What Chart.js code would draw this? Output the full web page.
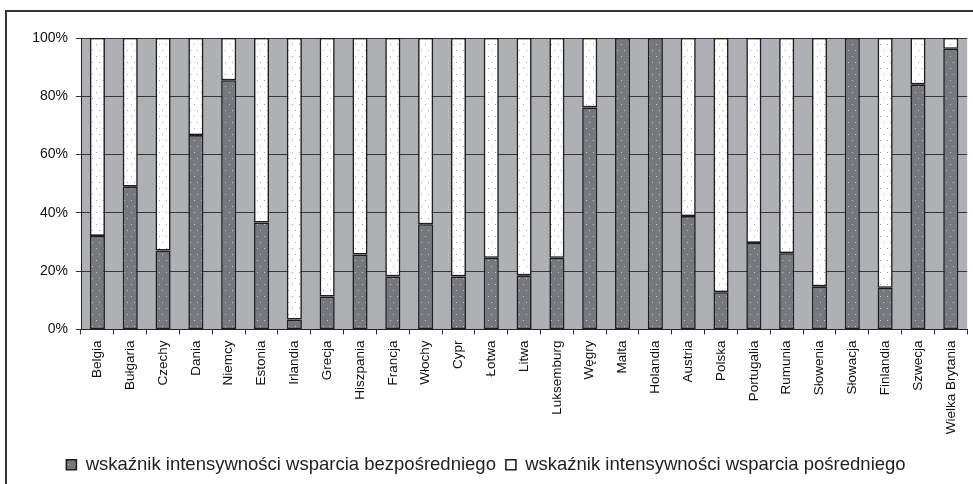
<!DOCTYPE html>
<html>
<head>
<meta charset="utf-8">
<script src="https://cdn.jsdelivr.net/npm/chart.js@4.4.1/dist/chart.umd.min.js"></script>
<style>
  html, body { margin: 0; padding: 0; background: #fff; }
  #wrap { position: relative; width: 973px; height: 484px; overflow: hidden; }
  #frame { position: absolute; left: 5px; top: 10px; width: 1000px; height: 500px; border: 2px solid #333; box-sizing: border-box; }
  canvas { position: absolute; left: 0; top: 0; }
</style>
</head>
<body>
<div id="wrap">
  <div id="frame"></div>
  <canvas id="myChart" width="973" height="484"></canvas>
</div>
<script>
// Kraje
const kraje = ["Belgia", "Bułgaria", "Czechy", "Dania", "Niemcy", "Estonia", "Irlandia", "Grecja",
  "Hiszpania", "Francja", "Włochy", "Cypr", "Łotwa", "Litwa", "Luksemburg", "Węgry", "Malta",
  "Holandia", "Austria", "Polska", "Portugalia", "Rumunia", "Słowenia", "Słowacja", "Finlandia",
  "Szwecja", "Wielka Brytania"];

// Udział wsparcia bezpośredniego (%)
const bezposrednie = [32.1, 49.0, 27.1, 66.7, 85.5, 36.7, 3.4, 11.3, 25.7, 18.2, 36.1, 18.2, 24.6,
  18.6, 24.6, 76.2, 100, 100, 38.9, 12.8, 29.7, 26.2, 14.8, 100, 14.3, 84.1, 96.3];

// Udział wsparcia pośredniego (%)
const posrednie = [67.9, 51.0, 72.9, 33.3, 14.5, 63.3, 96.6, 88.7, 74.3, 81.8, 63.9, 81.8, 75.4,
  81.4, 75.4, 23.8, 0, 0, 61.1, 87.2, 70.3, 73.8, 85.2, 0, 85.7, 15.9, 3.7];

const nazwySerii = ["wskaźnik intensywności wsparcia bezpośredniego", "wskaźnik intensywności wsparcia pośredniego"];
const yTicks = [0, 20, 40, 60, 80, 100];

// Wzór kropek
function wzor(tlo, kropka) {
  const c = document.createElement("canvas");
  c.width = 7;
  c.height = 12;
  const g = c.getContext("2d");
  g.fillStyle = tlo;
  g.fillRect(0, 0, 7, 12);
  g.fillStyle = kropka;
  g.fillRect(1, 2, 1, 1);
  g.fillRect(5, 8, 1, 1);
  return g.createPattern(c, "repeat");
}

const ciemny = wzor("#77787d", "#c9c9cc");
const jasny = wzor("#ffffff", "#a0a0a0");

// Szare tło obszaru wykresu
const tloWykresu = {
  id: "tloWykresu",
  beforeDraw(chart) {
    const a = chart.chartArea;
    const ctx = chart.ctx;
    ctx.save();
    ctx.fillStyle = "#aeb0b3";
    ctx.fillRect(a.left, a.top, a.right - a.left, a.bottom - a.top);
    ctx.restore();
  }
};

const font = "'Liberation Sans', Arial, sans-serif";

const config = {
  type: "bar",
  data: {
    labels: kraje,
    datasets: [
      {
        label: nazwySerii[0],
        data: bezposrednie,
        backgroundColor: ciemny,
        borderColor: "#1e1e1e",
        borderWidth: 1.6,
        borderSkipped: false,
        categoryPercentage: 1,
        barPercentage: 0.46
      },
      {
        label: nazwySerii[1],
        data: posrednie,
        backgroundColor: jasny,
        borderColor: "#1e1e1e",
        borderWidth: 1.6,
        borderSkipped: false,
        categoryPercentage: 1,
        barPercentage: 0.46
      }
    ]
  },
  options: {
    responsive: false,
    animation: false,
    layout: { padding: { top: 38, right: 1, left: 0, bottom: 0 } },
    plugins: {
      tooltip: { enabled: false },
      legend: {
        position: "bottom",
        labels: {
          color: "#222",
          font: { family: font, size: 18.5 },
          boxWidth: 10,
          boxHeight: 10,
          padding: 10
        }
      }
    },
    scales: {
      x: {
        stacked: true,
        offset: true,
        grid: {
          display: true,
          offset: true,
          drawOnChartArea: false,
          tickLength: 5,
          color: "#333",
          tickColor: "#333"
        },
        border: { display: true, color: "#222", width: 1 },
        ticks: {
          color: "#111",
          font: { family: font, size: 13.5 },
          maxRotation: 90,
          minRotation: 90,
          autoSkip: false,
          padding: 6
        },
        afterFit(scale) { scale.height = 116; }
      },
      y: {
        stacked: true,
        min: 0,
        max: 100,
        afterBuildTicks(scale) { scale.ticks = yTicks.map(v => ({ value: v })); },
        grid: {
          color: "#363636",
          lineWidth: 1,
          tickLength: 5,
          tickColor: "#333"
        },
        border: { display: true, color: "#222", width: 1 },
        ticks: {
          color: "#111",
          font: { family: font, size: 14 },
          padding: 8,
          callback: v => v + "%"
        },
        afterFit(scale) { scale.width = 81; }
      }
    }
  },
  plugins: [tloWykresu]
};

const ctx = document.getElementById("myChart").getContext("2d");
new Chart(ctx, config);
</script>
</body>
</html>
